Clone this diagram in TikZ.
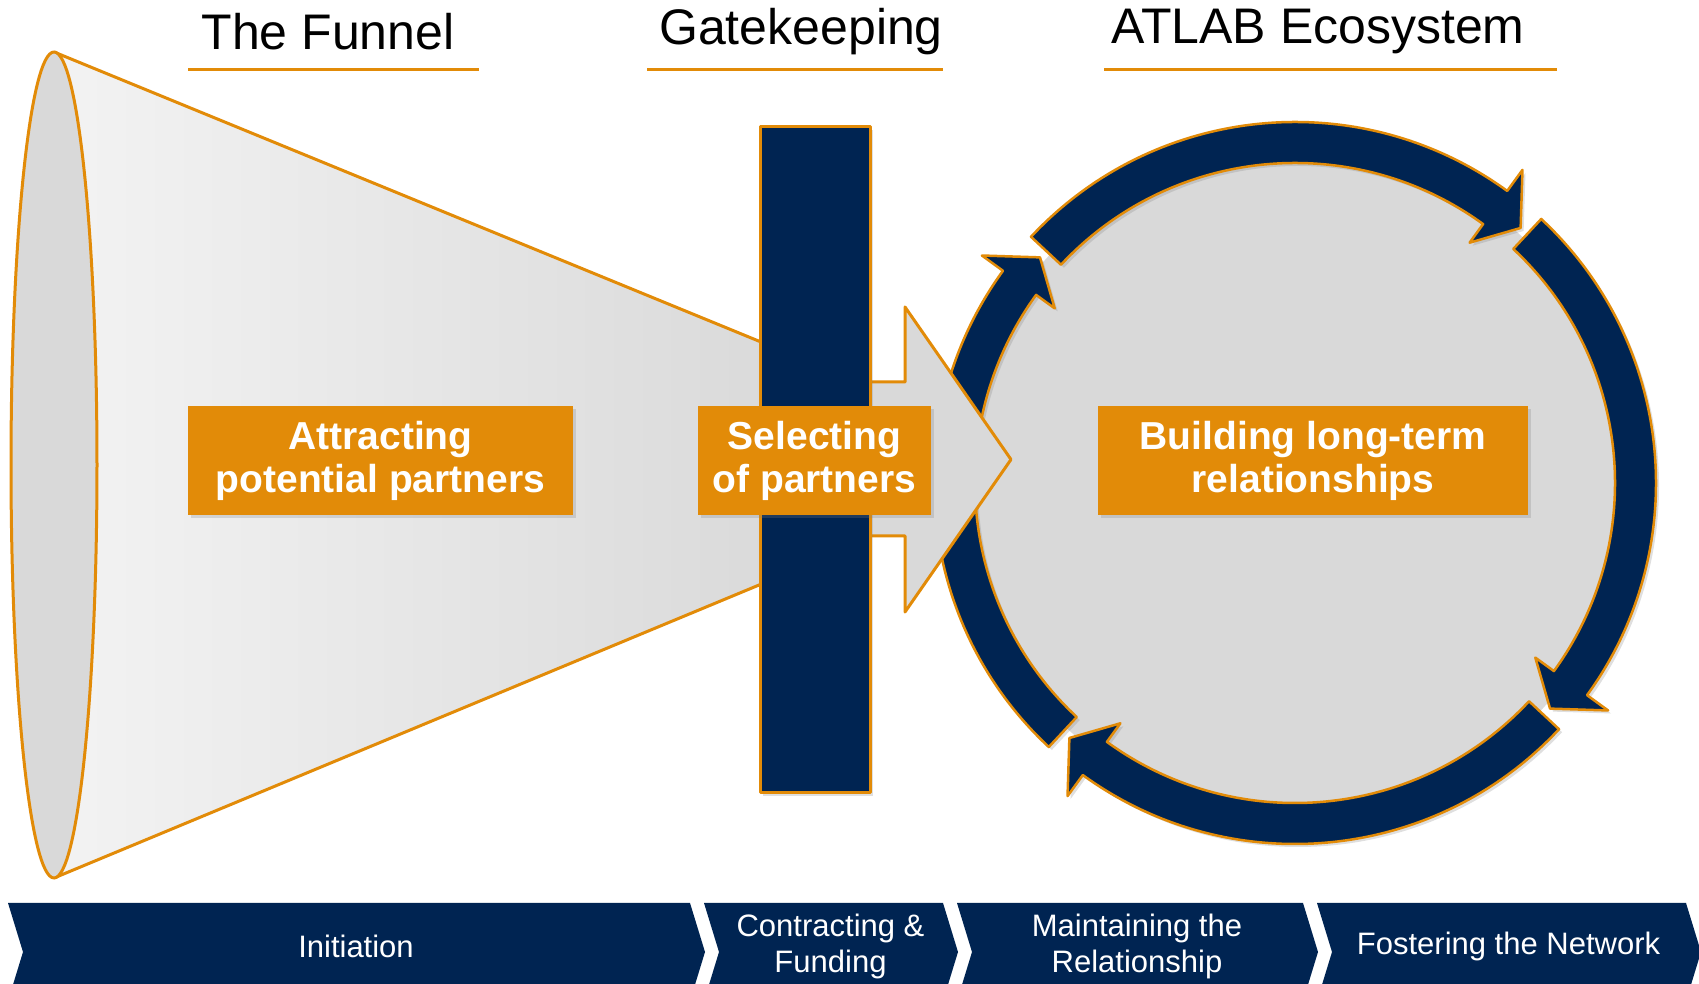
\documentclass[tikz,border=0pt]{standalone}
\usepackage{fontspec}
\setmainfont{Liberation Sans}
\usetikzlibrary{shadows}

\definecolor{atnavy}{RGB}{0,36,82}
\definecolor{atorange}{RGB}{226,139,8}
\definecolor{atgray}{RGB}{217,217,217}
\definecolor{conelight}{RGB}{243,243,243}

\tikzset{
  orangeline/.style={draw=atorange, line width=3pt, line join=round},
  softshadow/.style={drop shadow={opacity=0.25, shadow xshift=3pt, shadow yshift=-3pt}},
  tagbox/.style={fill=atorange, text=white, align=center, inner sep=0pt,
    minimum height=109pt, font=\bfseries\fontsize{39}{43}\selectfont, softshadow},
  heading/.style={inner sep=0pt, font=\fontsize{50}{60}\selectfont},
  headline/.style={atorange, line width=3pt},
  ringarrow/.style={orangeline, line width=2.5pt, fill=atnavy, softshadow},
  phasebox/.style={fill=atnavy},
  phasetext/.style={text=white, align=center, inner sep=0pt, font=\fontsize{31}{36}\selectfont},
}

\begin{document}
\begin{tikzpicture}[x=1pt, y=1pt]
  \clip (0,0) rectangle (1699,984);
  \coordinate (ring) at (1295,501);

  % ecosystem: grey disc and the four arrows going round it
  \fill[atgray] (ring) circle[radius=335];
  \foreach \k in {0,...,3}{
    \begin{scope}[shift={(ring)}, rotate=-90*\k]
      \filldraw[ringarrow] (137:361) arc[start angle=137, end angle=54, radius=361]
        -- (54:387) -- (48.5:340.5) -- (54:297) -- (54:320)
        arc[start angle=54, end angle=137, radius=320] -- cycle;
    \end{scope}
  }

  % the funnel
  \path[left color=conelight, right color=atgray] (54,932) -- (800,626) -- (800,416) -- (54,106) -- cycle;
  \draw[orangeline] (54,932) -- (800,626) (54,106) -- (800,416);
  \draw[orangeline, fill=atgray] (54,519) ellipse[x radius=43, y radius=413];

  % big arrow through the gate
  \draw[orangeline, fill=atgray] (860,602) -- (905,602) -- (905,677) -- (1011,524.5)
    -- (905,372) -- (905,448) -- (860,448) -- cycle;

  % the gate
  \draw[orangeline, fill=atnavy, softshadow] (760,191) rectangle (870,857);

  \node[tagbox, minimum width=385pt] (attract) at (380.5,523.5) {Attracting\\potential partners};
  \node[tagbox, minimum width=233pt] (select) at (814.5,523.5) {Selecting\\of partners};
  \node[tagbox, minimum width=430pt] (build) at (1313,523.5) {Building long-term\\relationships};

  % titles
  \node[heading] (funnel) at (328,952) {The Funnel};
  \node[heading] (gate) at (801,952) {Gatekeeping};
  \node[heading] (eco) at (1318,952) {ATLAB Ecosystem};
  \draw[headline] (188,914) -- (479,914);
  \draw[headline] (647,914) -- (943,914);
  \draw[headline] (1104,914) -- (1557,914);

  % phases along the bottom
  \foreach \xl/\xr/\nm/\txt in {8/690/init/{Initiation},
      704/943/contract/{Contracting \&\\Funding},
      957/1303/maintain/{Maintaining the\\Relationship},
      1317/1686/foster/{Fostering the Network}}{
    \fill[phasebox] (\xl,81) -- (\xr,81) -- (\xr+15,32) -- (\xr,-17) -- (\xl,-17) -- (\xl+15,32) -- cycle;
    \node[phasetext] (\nm) at ({(\xl+\xr)/2+7},38) {\txt};
  }
\end{tikzpicture}
\end{document}
